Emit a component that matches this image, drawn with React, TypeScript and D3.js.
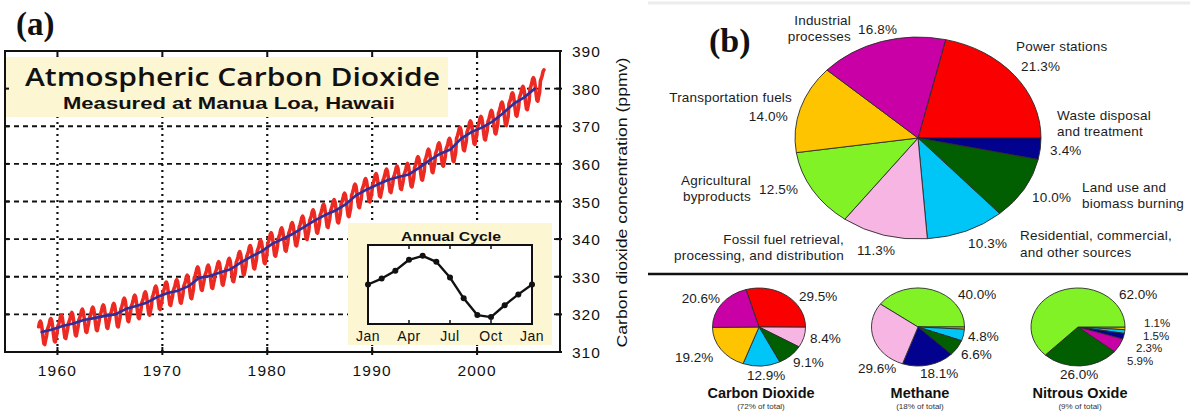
import React from "react";
import * as d3 from "d3";

// ---------- Panel (a): Mauna Loa CO2 record ----------
const annualYears = [
  1958, 1959, 1960, 1961, 1962, 1963, 1964, 1965, 1966, 1967, 1968, 1969,
  1970, 1971, 1972, 1973, 1974, 1975, 1976, 1977, 1978, 1979, 1980, 1981,
  1982, 1983, 1984, 1985, 1986, 1987, 1988, 1989, 1990, 1991, 1992, 1993,
  1994, 1995, 1996, 1997, 1998, 1999, 2000, 2001, 2002, 2003, 2004, 2005, 2006,
];
const annualMeanPpm = [
  315.3, 316.0, 316.9, 317.6, 318.5, 319.0, 319.6, 320.0, 321.4, 322.2, 323.1, 324.6,
  325.7, 326.3, 327.5, 329.7, 330.2, 331.1, 332.0, 333.8, 335.4, 336.8, 338.8, 340.1,
  341.5, 343.2, 344.9, 346.4, 347.6, 349.3, 351.7, 353.2, 354.5, 355.7, 356.5, 357.2,
  359.0, 361.0, 362.7, 363.9, 366.8, 368.5, 369.7, 371.3, 373.5, 376.0, 377.7, 380.0, 382.1,
];
// Seasonal anomaly (ppm), Jan .. Dec and back to Jan
const cycleMonths = ["Jan", "Feb", "Mar", "Apr", "May", "Jun", "Jul", "Aug", "Sep", "Oct", "Nov", "Dec", "Jan"];
const seasonalCycle = [0.0, 0.6, 1.4, 2.5, 2.9, 2.3, 0.7, -1.4, -3.1, -3.3, -2.1, -1.0, 0.0];
const cycleTickMonths = [0, 3, 6, 9, 12];
const cycleTickLabels = ["Jan", "Apr", "Jul", "Oct", "Jan"];

const yearTicks = [1960, 1970, 1980, 1990, 2000];
const ppmTicks = [310, 320, 330, 340, 350, 360, 370, 380, 390];
const gridPpm = [320, 330, 340, 350, 360, 370, 380];
const recordStart = 1958 + 2 / 12; // March 1958
const recordEnd = 2006 + 5 / 12; // May 2006

// ---------- Panel (b): emission sources ----------
const sectorColor: Record<string, string> = {
  power: "#fb0000",
  waste: "#02028f",
  land: "#015f01",
  resid: "#00c6f8",
  fossil: "#f6b5e2",
  agri: "#80f226",
  transport: "#ffc400",
  industry: "#c800a6",
};

const allSectors = ["power", "waste", "land", "resid", "fossil", "agri", "transport", "industry"];
const allShares = [21.3, 3.4, 10.0, 10.3, 11.3, 12.5, 14.0, 16.8];

const co2Sectors = ["power", "fossil", "land", "resid", "transport", "industry"];
const co2Shares = [29.5, 8.4, 9.1, 12.9, 19.2, 20.6];

const ch4Sectors = ["agri", "transport", "resid", "land", "waste", "fossil"];
const ch4Shares = [40.0, 0.9, 4.8, 6.6, 18.1, 29.6];

const n2oSectors = ["transport", "resid", "waste", "industry", "land", "agri"];
const n2oShares = [1.1, 1.5, 2.3, 5.9, 26.0, 62.0];

const gasNames = ["Carbon Dioxide", "Methane", "Nitrous Oxide"];
const gasNotes = ["(72% of total)", "(18% of total)", "(9% of total)"];

// label placement for the sector pie (x, y, anchor, line gap, lines)
const bigLabels: { x: number; y: number; a: "start" | "end"; gap?: number; lines: string[] }[] = [
  { x: 851, y: 25, a: "end", lines: ["Industrial", "processes"] },
  { x: 858, y: 34, a: "start", lines: ["16.8%"] },
  { x: 1016, y: 51, a: "start", lines: ["Power stations"] },
  { x: 1021, y: 71, a: "start", lines: ["21.3%"] },
  { x: 792, y: 102, a: "end", lines: ["Transportation fuels"] },
  { x: 788, y: 121, a: "end", lines: ["14.0%"] },
  { x: 1057, y: 120, a: "start", lines: ["Waste disposal", "and treatment"] },
  { x: 1050, y: 155, a: "start", lines: ["3.4%"] },
  { x: 751, y: 185, a: "end", lines: ["Agricultural", "byproducts"] },
  { x: 759, y: 194, a: "start", lines: ["12.5%"] },
  { x: 1082, y: 192, a: "start", lines: ["Land use and", "biomass burning"] },
  { x: 1032, y: 202, a: "start", lines: ["10.0%"] },
  { x: 844, y: 244, a: "end", gap: 16, lines: ["Fossil fuel retrieval,", "processing, and distribution"] },
  { x: 857, y: 255, a: "start", lines: ["11.3%"] },
  { x: 968, y: 248, a: "start", lines: ["10.3%"] },
  { x: 1020, y: 240, a: "start", gap: 16.5, lines: ["Residential, commercial,", "and other sources"] },
];

const smallLabels: { x: number; y: number; a: "start" | "end"; t: string; fs?: number }[] = [
  { x: 720, y: 303, a: "end", t: "20.6%" },
  { x: 799, y: 301, a: "start", t: "29.5%" },
  { x: 810, y: 343, a: "start", t: "8.4%" },
  { x: 793, y: 367, a: "start", t: "9.1%" },
  { x: 747, y: 380, a: "start", t: "12.9%" },
  { x: 675, y: 362, a: "start", t: "19.2%" },
  { x: 958, y: 299, a: "start", t: "40.0%" },
  { x: 968, y: 341, a: "start", t: "4.8%" },
  { x: 961, y: 359, a: "start", t: "6.6%" },
  { x: 920, y: 378, a: "start", t: "18.1%" },
  { x: 858, y: 373, a: "start", t: "29.6%" },
  { x: 1119, y: 299, a: "start", t: "62.0%" },
  { x: 1144, y: 327, a: "start", t: "1.1%", fs: 11.5 },
  { x: 1143, y: 339.7, a: "start", t: "1.5%", fs: 11.5 },
  { x: 1136, y: 352.4, a: "start", t: "2.3%", fs: 11.5 },
  { x: 1127, y: 365, a: "start", t: "5.9%", fs: 11.5 },
  { x: 1060, y: 379, a: "start", t: "26.0%" },
];

const SANS = "'Open Sans', 'Liberation Sans', sans-serif";
const ARIAL = "'Liberation Sans', Arial, sans-serif";
const SERIF = "'Liberation Serif', 'Times New Roman', serif";
const PALE = "#fdf6d2";

const deg = Math.PI / 180;

function EllipsePie(props: {
  cx: number; cy: number; rx: number; ry: number;
  sectors: string[]; shares: number[]; startDeg: number;
}) {
  const { cx, cy, rx, ry, sectors, shares, startDeg } = props;
  const pie = d3
    .pie<number>()
    .sort(null)
    .value((d) => d)
    .startAngle(startDeg * deg)
    .endAngle(startDeg * deg + 2 * Math.PI);
  const arc = d3.arc<d3.PieArcDatum<number>>().innerRadius(0).outerRadius(1);
  const slices = pie(shares);
  return (
    <g transform={`translate(${cx},${cy}) scale(${rx},${ry})`}>
      {slices.map((s, i) => (
        <path
          key={i}
          d={arc(s) || ""}
          fill={sectorColor[sectors[i]]}
          stroke="#2a2a2a"
          strokeWidth={0.9}
          vectorEffect="non-scaling-stroke"
          strokeLinejoin="round"
        />
      ))}
    </g>
  );
}

export default function App() {
  const x = d3.scaleLinear().domain([1955, 2008]).range([5, 561]);
  const y = d3.scaleLinear().domain([310, 390]).range([352, 51]);
  const [fx0, fx1] = [5, 560];
  const [fy0, fy1] = y.range(); // bottom, top

  const monthly: { t: number; v: number }[] = [];
  annualYears.forEach((yr, i) => {
    for (let m = 0; m < 12; m++) {
      const t = yr + (m + 0.5) / 12;
      if (t < recordStart || t > recordEnd) continue;
      monthly.push({ t, v: annualMeanPpm[i] + seasonalCycle[m] });
    }
  });
  const trend = annualYears
    .map((yr, i) => ({ t: yr + 0.5, v: annualMeanPpm[i] }))
    .filter((d) => d.t <= 2005.9);

  const line = d3
    .line<{ t: number; v: number }>()
    .x((d) => x(d.t))
    .y((d) => y(d.v));

  const ix = d3.scaleLinear().domain([0, 12]).range([368, 532]);
  const iy = d3.scaleLinear().domain([-4, 4]).range([324, 245]);
  const cycleLine = d3
    .line<number>()
    .x((_, i) => ix(i))
    .y((d) => iy(d));

  return (
    <svg
      width={1193}
      height={412}
      viewBox="0 0 1193 412"
      style={{ position: "absolute", left: 0, top: 0, background: "#fff" }}
    >
      <rect width={1193} height={412} fill="#fff" />

      {/* ---- (a) ---- */}
      <text x={16} y={35} fontFamily={SERIF} fontWeight="bold" fontSize={33} fill="#111">
        (a)
      </text>

      {/* grid */}
      {gridPpm.map((p) => (
        <line key={p} x1={fx0} x2={fx1} y1={y(p)} y2={y(p)} stroke="#111" strokeWidth={1.8} strokeDasharray="5,4" />
      ))}
      {yearTicks.map((yr) => (
        <line key={yr} x1={x(yr)} x2={x(yr)} y1={fy0} y2={fy1} stroke="#111" strokeWidth={2.2} strokeDasharray="2,4" />
      ))}

      {/* title box */}
      <rect x={6} y={57} width={442} height={60} fill={PALE} />
      <text x={25} y={86} fontFamily={SANS} fontWeight={600} fontSize={26} fill="#111" textLength={415} lengthAdjust="spacingAndGlyphs">
        Atmospheric Carbon Dioxide
      </text>
      <text x={63} y={109} fontFamily={ARIAL} fontWeight="bold" fontSize={17} fill="#111" textLength={332} lengthAdjust="spacingAndGlyphs">
        Measured at Manua Loa, Hawaii
      </text>

      {/* inset: annual cycle */}
      <rect x={348} y={223} width={204} height={122} fill={PALE} />
      <text x={451} y={241} textAnchor="middle" fontFamily={ARIAL} fontWeight="bold" fontSize={13} fill="#111" textLength={100} lengthAdjust="spacingAndGlyphs">
        Annual Cycle
      </text>
      <rect x={368} y={245} width={164} height={79} fill="#fff" stroke="#111" strokeWidth={2} />
      {cycleTickMonths.map((m, i) => (
        <g key={i}>
          <line x1={ix(m)} x2={ix(m)} y1={245} y2={249} stroke="#111" strokeWidth={1.5} />
          <line x1={ix(m)} x2={ix(m)} y1={324} y2={320} stroke="#111" strokeWidth={1.5} />
          <text x={ix(m)} y={341} textAnchor="middle" fontFamily={ARIAL} fontSize={14} letterSpacing={0.5} fill="#111">
            {cycleTickLabels[i]}
          </text>
        </g>
      ))}
      <path d={cycleLine(seasonalCycle) || ""} fill="none" stroke="#111" strokeWidth={2.4} strokeLinejoin="round" />
      {seasonalCycle.map((v, i) => (
        <circle key={cycleMonths[i] + i} cx={ix(i)} cy={iy(v)} r={3} fill="#111" />
      ))}

      {/* data */}
      <path d={line(monthly) || ""} fill="none" stroke="#ec2a22" strokeWidth={3.6} strokeLinejoin="round" strokeLinecap="round" />
      <path d={line(trend) || ""} fill="none" stroke="#2e2f9a" strokeWidth={2.6} strokeLinejoin="round" strokeLinecap="round" />

      {/* frame and ticks */}
      <rect x={fx0} y={fy1} width={fx1 - fx0} height={fy0 - fy1} fill="none" stroke="#111" strokeWidth={2} />
      {yearTicks.map((yr) => (
        <g key={yr}>
          <line x1={x(yr)} x2={x(yr)} y1={fy1} y2={fy1 + 5} stroke="#111" strokeWidth={2} />
          <line x1={x(yr)} x2={x(yr)} y1={fy0 - 5} y2={fy0 + 3} stroke="#111" strokeWidth={2} />
          <text x={x(yr)} y={376} textAnchor="middle" fontFamily={ARIAL} fontSize={15.5} letterSpacing={1.2} fill="#111">
            {yr}
          </text>
        </g>
      ))}
      {ppmTicks.map((p) => (
        <g key={p}>
          <line x1={fx0} x2={fx0 + 4} y1={y(p)} y2={y(p)} stroke="#111" strokeWidth={2} />
          <line x1={fx1 - 4} x2={fx1 + 2} y1={y(p)} y2={y(p)} stroke="#111" strokeWidth={2} />
          <text x={572} y={y(p) + 6} fontFamily={ARIAL} fontSize={15.5} letterSpacing={1} fill="#111">
            {p}
          </text>
        </g>
      ))}
      <text
        transform={`translate(627,${(fy0 + fy1) / 2 + 1}) rotate(-90)`}
        textAnchor="middle"
        fontFamily={ARIAL}
        fontSize={15}
        fill="#111"
        textLength={290}
        lengthAdjust="spacingAndGlyphs"
      >
        Carbon dioxide concentration (ppmv)
      </text>

      {/* ---- (b) ---- */}
      <line x1={648} x2={1190} y1={3} y2={3} stroke="#ececec" strokeWidth={3} />
      <text x={709} y={52} fontFamily={SERIF} fontWeight="bold" fontSize={34} fill="#111">
        (b)
      </text>

      <EllipsePie cx={918} cy={138} rx={123} ry={101} sectors={allSectors} shares={allShares} startDeg={13} />
      {bigLabels.map((l, i) => (
        <text key={i} x={l.x} y={l.y} textAnchor={l.a} fontFamily={ARIAL} fontSize={13.5} letterSpacing={0.2} fill="#1c1c1c">
          {l.lines.map((s, j) => (
            <tspan key={j} x={l.x} dy={j === 0 ? 0 : l.gap ?? 16}>
              {s}
            </tspan>
          ))}
        </text>
      ))}

      <line x1={648} x2={1188} y1={274} y2={274} stroke="#111" strokeWidth={2.5} />

      <EllipsePie cx={759} cy={327} rx={46.5} ry={39} sectors={co2Sectors} shares={co2Shares} startDeg={-16.2} />
      <EllipsePie cx={918} cy={327} rx={46.5} ry={39} sectors={ch4Sectors} shares={ch4Shares} startDeg={-54} />
      <EllipsePie cx={1078} cy={327} rx={47} ry={39} sectors={n2oSectors} shares={n2oShares} startDeg={90} />

      {smallLabels.map((l, i) => (
        <text key={i} x={l.x} y={l.y} textAnchor={l.a} fontFamily={ARIAL} fontSize={l.fs ?? 13.5} fill="#1a1a1a">
          {l.t}
        </text>
      ))}
      {[759, 918, 1078].map((cx, i) => (
        <g key={i}>
          <text x={cx + 2} y={398} textAnchor="middle" fontFamily={ARIAL} fontWeight="bold" fontSize={14.5} fill="#111">
            {gasNames[i]}
          </text>
          <text x={cx + 2} y={409} textAnchor="middle" fontFamily={ARIAL} fontSize={8} fill="#333">
            {gasNotes[i]}
          </text>
        </g>
      ))}
    </svg>
  );
}
